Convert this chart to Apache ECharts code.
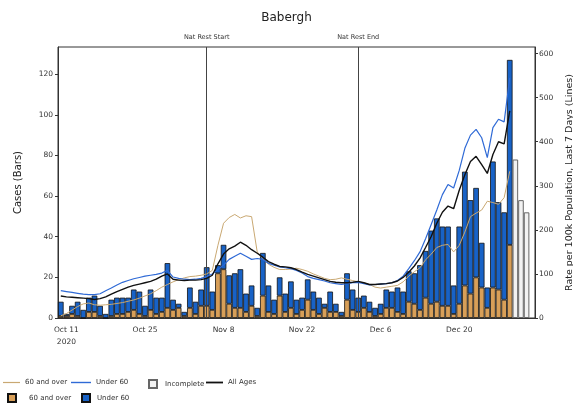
<!DOCTYPE html>
<html>
<head>
<meta charset="UTF-8">
<title>Babergh</title>
<script src="https://cdn.jsdelivr.net/npm/echarts@6/dist/echarts.min.js"></script>
<style>
  html, body { margin: 0; padding: 0; background: #fff; }
  #main { width: 573px; height: 408px; }
</style>
</head>
<body>
<div id="main"></div>
<script type="text/javascript">
// days Oct 10 2020 .. Jan 2 2021
var categories = [
  'Oct 10','Oct 11','Oct 12','Oct 13','Oct 14','Oct 15','Oct 16','Oct 17','Oct 18','Oct 19','Oct 20',
  'Oct 21','Oct 22','Oct 23','Oct 24','Oct 25','Oct 26','Oct 27','Oct 28','Oct 29','Oct 30','Oct 31',
  'Nov 1','Nov 2','Nov 3','Nov 4','Nov 5','Nov 6','Nov 7','Nov 8','Nov 9','Nov 10',
  'Nov 11','Nov 12','Nov 13','Nov 14','Nov 15','Nov 16','Nov 17','Nov 18','Nov 19','Nov 20',
  'Nov 21','Nov 22','Nov 23','Nov 24','Nov 25','Nov 26','Nov 27','Nov 28','Nov 29','Nov 30',
  'Dec 1','Dec 2','Dec 3','Dec 4','Dec 5','Dec 6','Dec 7','Dec 8','Dec 9','Dec 10',
  'Dec 11','Dec 12','Dec 13','Dec 14','Dec 15','Dec 16','Dec 17','Dec 18','Dec 19','Dec 20',
  'Dec 21','Dec 22','Dec 23','Dec 24','Dec 25','Dec 26','Dec 27','Dec 28','Dec 29','Dec 30',
  'Dec 31','Jan 1','Jan 2'
];

var tickDays = ['Oct 11', 'Oct 25', 'Nov 8', 'Nov 22', 'Dec 6', 'Dec 20'];
var tickText = ['Oct 11\n2020', 'Oct 25', 'Nov 8', 'Nov 22', 'Dec 6', 'Dec 20'];

// cases (bars)
var over60Cases = [
  1,1,2,1,0,3,3,1,0,1, 2,2,3,4,2,1,4,2,3,5, 4,5,1,5,2,6,6,4,22,24,
  7,5,5,3,6,1,11,3,2,11, 3,5,2,4,9,4,2,5,3,3, 1,9,4,3,5,3,1,2,5,5,
  3,2,8,7,4,10,7,8,6,6, 2,7,16,12,20,15,5,15,14,9, 36,null,null,null,null
];
var under60Cases = [
  7,1,4,7,4,7,8,5,2,8, 8,8,7,10,11,5,10,8,7,22, 5,2,2,10,6,8,19,9,4,12,
  14,17,19,9,10,4,21,13,7,9, 9,13,7,6,10,9,8,2,10,4, 2,13,10,7,6,5,4,5,9,8,
  12,11,15,15,22,23,36,41,39,39, 14,38,56,46,44,22,10,62,43,43, 91,null,null,null,null
];
var incompleteCases = [
  null,null,null,null,null,null,null,null,null,null, null,null,null,null,null,null,null,null,null,null,
  null,null,null,null,null,null,null,null,null,null, null,null,null,null,null,null,null,null,null,null,
  null,null,null,null,null,null,null,null,null,null, null,null,null,null,null,null,null,null,null,null,
  null,null,null,null,null,null,null,null,null,null, null,null,null,null,null,null,null,null,null,null,
  null,78,58,52,null
];

// rate per 100k, last 7 days (lines)
var rate60 = [
  5,10,18,26,32,34,30,29,30,31, 33,35,38,41,45,50,55,62,70,76, 82,87,91,94,95,97,100,108,165,215,
  228,235,227,232,230,150,135,122,115,110, 110,111,113,110,106,100,95,90,87,88, 91,88,85,82,80,76,70,68,70,72,
  74,82,95,105,114,132,145,160,165,167, 150,165,195,230,238,245,265,262,258,273, 333
];
var rateUnder60 = [
  62,60,58,56,54,53,53,55,62,68, 75,81,85,89,92,95,97,99,102,108, 93,90,88,87,88,90,94,100,110,120,
  133,140,147,140,133,135,133,124,120,116, 114,112,108,102,94,90,87,84,80,78, 76,78,80,81,78,75,76,77,78,80,
  85,95,112,130,150,180,212,245,280,303, 295,335,385,415,428,409,364,432,451,445, 545
];
var rateAll = [
  50,48,47,46,45,44,42,44,48,54, 60,65,70,74,77,80,83,88,95,100, 88,86,85,86,86,87,90,97,123,145,
  157,163,172,165,155,147,138,128,122,117, 116,114,110,104,99,95,91,87,83,81, 80,80,81,83,80,76,76,77,78,80,
  84,92,104,118,136,160,185,215,240,254, 248,290,325,355,367,348,328,371,400,395, 470
];

var legendNames = {
  rate60: '60 and over',
  rateU60: 'Under 60',
  incomplete: 'Incomplete',
  rateAll: 'All Ages',
  cases60: '60 and over',
  casesU60: 'Under 60'
};

var chart = echarts.init(document.getElementById('main'));

// one legend per entry so each can sit where the reference has it
function legendAt(key, left, top, w, h, icon, textPad) {
  return {
    left: left, top: top, padding: 0,
    itemWidth: w, itemHeight: h, icon: icon,
    selectedMode: false,
    textStyle: { fontSize: 7, color: '#333', padding: [0, 0, 0, textPad || 0] },
    formatter: function (name) { return legendNames[name]; },
    data: [key]
  };
}

var option = {
  animation: false,
  textStyle: { fontFamily: 'DejaVu Sans' },
  title: {
    text: 'Babergh',
    left: 'center',
    top: 7,
    textStyle: { fontSize: 12, fontWeight: 'normal', color: '#222' }
  },
  legend: [
    legendAt('rate60', 3, 379, 17, 1.2, 'rect', 0),
    legendAt('rateU60', 71, 379, 20, 1.4, 'rect', 0),
    legendAt('incomplete', 148, 379, 8, 8, 'rect', 3),
    legendAt('rateAll', 206, 379, 17, 1.8, 'rect', 0),
    legendAt('cases60', 7, 393, 8, 8, 'rect', 8),
    legendAt('casesU60', 81, 393, 8, 8, 'rect', 2)
  ],
  grid: {
    left: 58, right: 38, top: 47, bottom: 90,
    containLabel: false,
    outerBoundsMode: 'none',
    show: true, borderColor: '#333', borderWidth: 1
  },
  xAxis: {
    type: 'category',
    data: categories,
    boundaryGap: true,
    axisLine: { lineStyle: { color: '#333' } },
    axisTick: {
      alignWithLabel: true,
      length: 3,
      interval: function (i, v) { return tickDays.indexOf(v) >= 0; },
      lineStyle: { color: '#333' }
    },
    axisLabel: {
      interval: function (i, v) { return tickDays.indexOf(v) >= 0; },
      formatter: function (v) { return tickText[tickDays.indexOf(v)]; },
      fontSize: 7.5,
      lineHeight: 12,
      color: '#333',
      margin: 6
    }
  },
  yAxis: [
    {
      type: 'value',
      min: 0, max: 133.35, interval: 20,
      name: 'Cases (Bars)',
      nameLocation: 'middle',
      nameRotate: 90,
      nameGap: 35,
      nameTextStyle: { fontSize: 10, color: '#222' },
      axisLine: { show: true, lineStyle: { color: '#333' } },
      axisTick: { show: true, length: 3, lineStyle: { color: '#333' } },
      axisLabel: { fontSize: 7.5, color: '#333', margin: 5, showMaxLabel: false },
      splitLine: { show: false }
    },
    {
      type: 'value',
      min: 0, max: 615, interval: 100,
      name: 'Rate per 100k Population, Last 7 Days (Lines)',
      nameLocation: 'middle',
      nameRotate: 90,
      nameGap: 30,
      nameTextStyle: { fontSize: 9.5, color: '#222' },
      axisLine: { show: true, lineStyle: { color: '#333' } },
      axisTick: { show: true, length: 3, lineStyle: { color: '#333' } },
      axisLabel: { fontSize: 7.5, color: '#333', margin: 4, showMaxLabel: false },
      splitLine: { show: false }
    }
  ],
  series: [
    {
      name: 'cases60',
      type: 'bar',
      stack: 'cases',
      yAxisIndex: 0,
      barCategoryGap: '0%',
      data: over60Cases,
      itemStyle: { color: '#d89f58', borderColor: '#111', borderWidth: 0.8 }
    },
    {
      name: 'casesU60',
      type: 'bar',
      stack: 'cases',
      yAxisIndex: 0,
      barCategoryGap: '0%',
      data: under60Cases,
      itemStyle: { color: '#1862c6', borderColor: '#111', borderWidth: 0.8 }
    },
    {
      name: 'incomplete',
      type: 'bar',
      stack: 'cases',
      yAxisIndex: 0,
      barCategoryGap: '0%',
      data: incompleteCases,
      itemStyle: { color: '#f2f2f2', borderColor: '#666', borderWidth: 1 }
    },
    {
      name: 'rate60',
      type: 'line',
      yAxisIndex: 1,
      symbol: 'none',
      data: rate60,
      z: 5,
      lineStyle: { color: '#c9a872', width: 1 },
      itemStyle: { color: '#c9a872' }
    },
    {
      name: 'rateU60',
      type: 'line',
      yAxisIndex: 1,
      symbol: 'none',
      data: rateUnder60,
      z: 5,
      lineStyle: { color: '#2f6ad6', width: 1.2 },
      itemStyle: { color: '#2f6ad6' }
    },
    {
      name: 'rateAll',
      type: 'line',
      yAxisIndex: 1,
      symbol: 'none',
      data: rateAll,
      z: 6,
      lineStyle: { color: '#111', width: 1.4 },
      itemStyle: { color: '#111' },
      markLine: {
        silent: true,
        symbol: ['none', 'none'],
        lineStyle: { color: '#444', width: 1, type: 'solid' },
        label: { position: 'end', distance: 6, fontSize: 6.5, color: '#333' },
        data: [
          { xAxis: 'Nov 5', label: { formatter: 'Nat Rest Start' } },
          { xAxis: 'Dec 2', label: { formatter: 'Nat Rest End' } }
        ]
      }
    }
  ]
};

chart.setOption(option);
</script>
</body>
</html>
